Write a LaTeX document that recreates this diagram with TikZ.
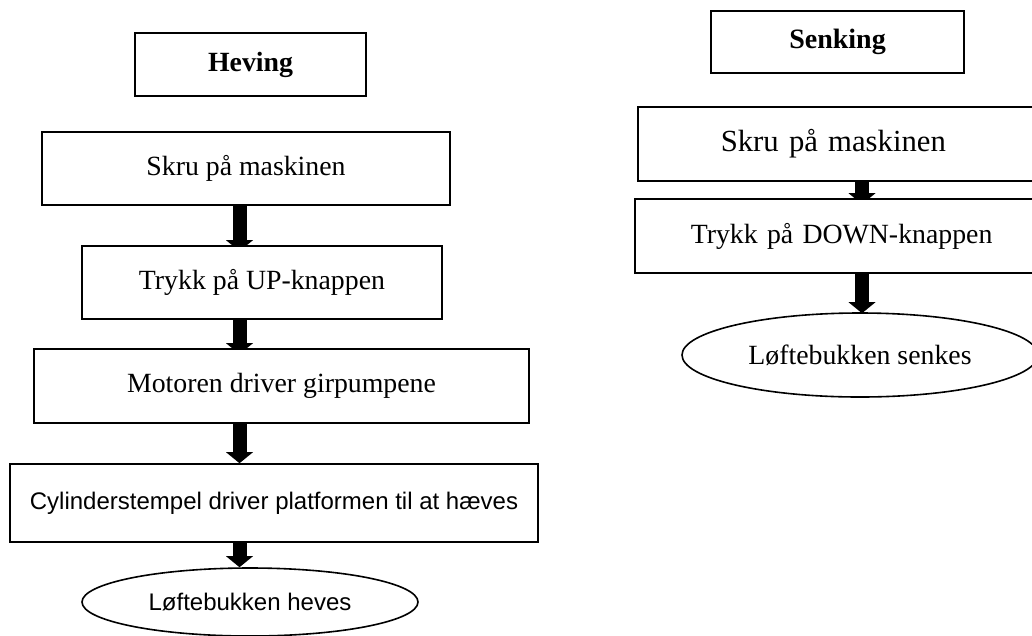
\documentclass[tikz,border=0pt]{standalone}
\usepackage{fontspec}
\setmainfont{Liberation Serif}
\newfontfamily\arialfont{Liberation Sans}
\usetikzlibrary{arrows.meta,shapes.geometric,calc,backgrounds}
\begin{document}
\begin{tikzpicture}[x=1pt,y=-1pt,
  serif/.style={font=\fontsize{27.8}{33}\selectfont},
  sans/.style={font=\arialfont\fontsize{24}{29}\selectfont},
  box/.style={draw,line width=1.6pt,fill=white,rectangle,inner sep=0pt},
  ell/.style={draw,line width=1.6pt,fill=white,ellipse,inner sep=0pt},
  flowarrow/.style={line width=14pt,-{Triangle[width=27pt,length=11pt,line width=0pt]}}]
\useasboundingbox (0,0) rectangle (1032,635);
\clip (0,0) rectangle (1032,635);
% left column
\node[box,font=\bfseries\fontsize{27.8}{33}\selectfont,minimum width=231pt,minimum height=63pt] (heving) at (250.5,64.5) {Heving};
\node[box,serif,minimum width=408pt,minimum height=73pt] (skru1) at (246,168.5) {Skru på maskinen};
\node[box,serif,minimum width=360pt,minimum height=73pt] (up) at (262,282.5) {Trykk på UP-knappen};
\node[box,serif,minimum width=495pt,minimum height=74pt] (motor) at (281.5,386) {Motoren driver girpumpene};
\node[box,sans,minimum width=528pt,minimum height=78pt] (cyl) at (274,503) {Cylinderstempel driver platformen til at hæves};
\node[ell,sans,minimum width=336pt,minimum height=68pt] (lh) at (250,602) {Løftebukken heves};
% right column
\node[box,font=\bfseries\fontsize{28}{33}\selectfont,minimum width=253pt,minimum height=62pt] (senking) at (837.5,42) {Senking};
\node[box,font=\fontsize{30.7}{36}\selectfont,anchor=west,inner xsep=83pt,text width=300pt,align=left,minimum height=74pt] (skru2) at (637,144) {Skru på maskinen};
\node[box,serif,anchor=west,inner xsep=56pt,text width=320pt,align=left,minimum height=74pt] (down) at (634,236) {Trykk på DOWN-knappen};
\node[ell,serif,minimum width=356pt,minimum height=84pt] (ls) at (860,355) {Løftebukken senkes};
% arrows
\coordinate (ax) at (239.5,0);
\coordinate (bx) at (862,0);
\begin{pgfonlayer}{background}
\draw[flowarrow] (skru1.south -| ax) -- ($(up.north -| ax)+(0,6)$);
\draw[flowarrow] (up.south -| ax) -- ($(motor.north -| ax)+(0,6)$);
\draw[flowarrow] (motor.south -| ax) -- (cyl.north -| ax);
\draw[flowarrow] (cyl.south -| ax) -- (lh.north -| ax);
\draw[flowarrow] (skru2.south -| bx) -- ($(down.north -| bx)+(0,6)$);
\draw[flowarrow] (down.south -| bx) -- ($(ls.north -| bx)+(0,1)$);
\end{pgfonlayer}
\end{tikzpicture}
\end{document}
